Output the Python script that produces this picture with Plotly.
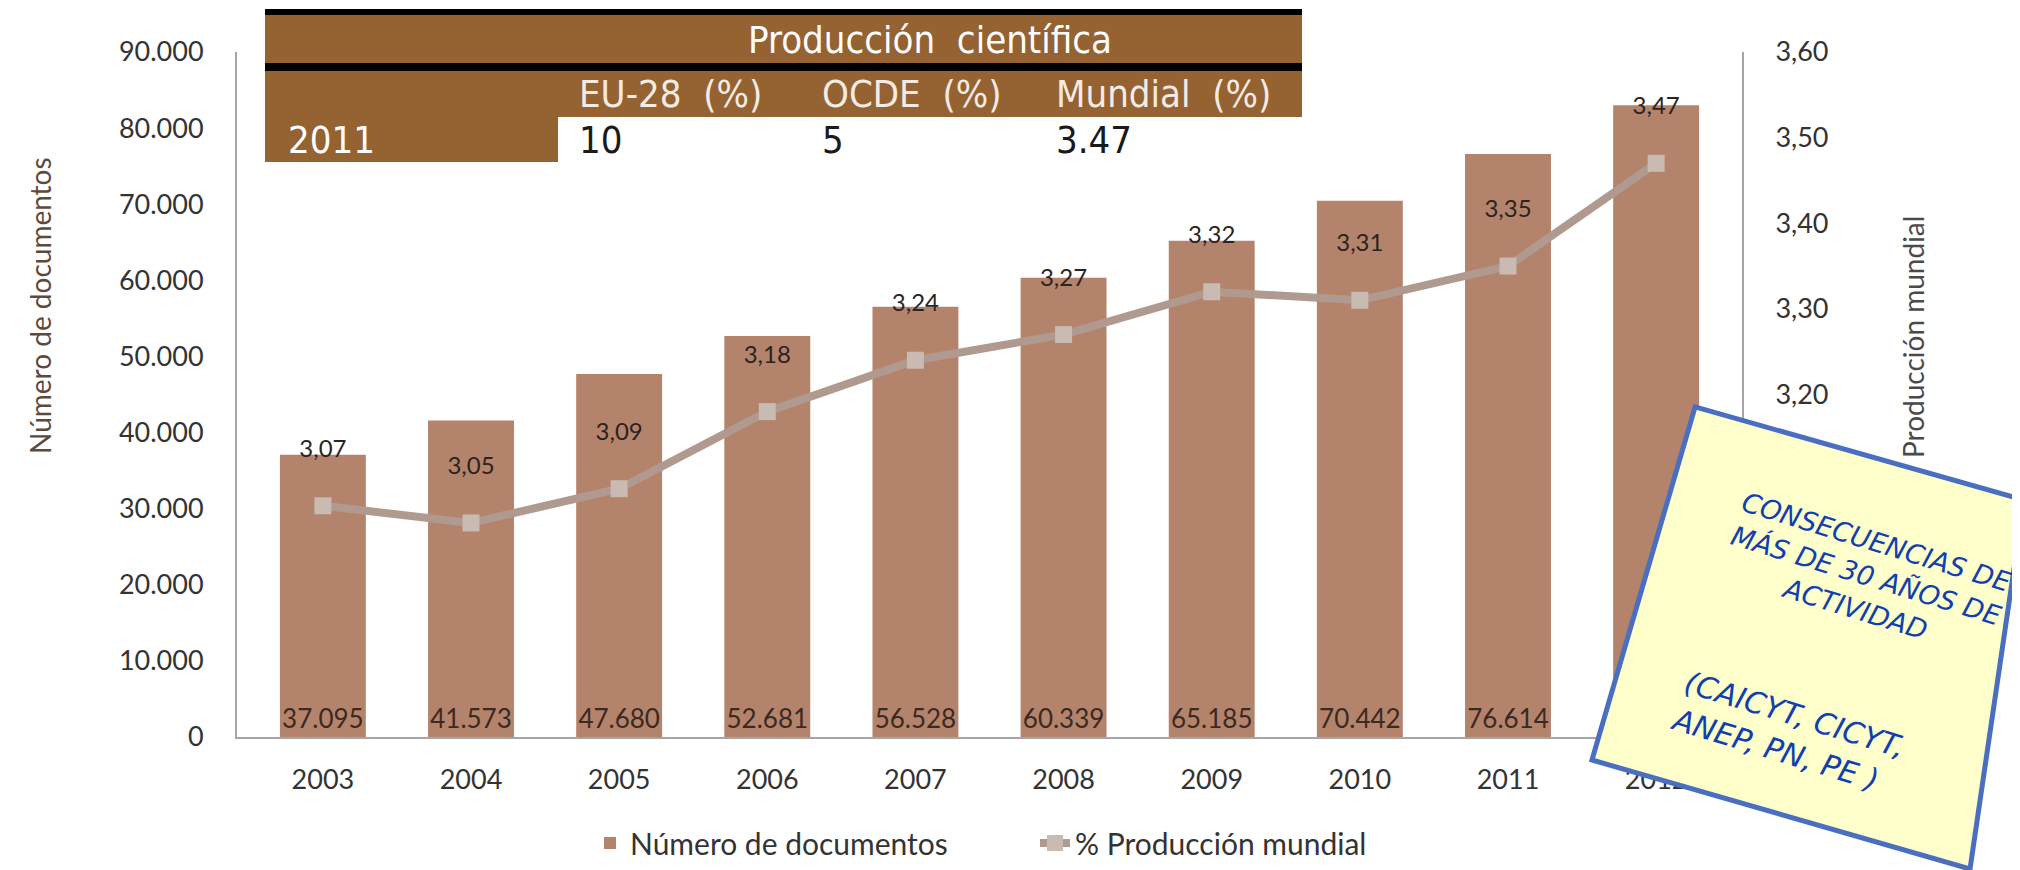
import plotly.graph_objects as go

# data
years = ["2003", "2004", "2005", "2006", "2007", "2008", "2009", "2010", "2011", "2012"]
documentos = [37095, 41573, 47680, 52681, 56528, 60339, 65185, 70442, 76614, 83000]
pct_mundial = [3.07, 3.05, 3.09, 3.18, 3.24, 3.27, 3.32, 3.31, 3.35, 3.47]

tabla_titulo = "Producción\u00a0\u00a0científica"
tabla_cols = ["EU-28\u00a0\u00a0(%)", "OCDE\u00a0\u00a0(%)", "Mundial\u00a0\u00a0(%)"]
tabla_anio = "2011"
tabla_vals = ["10", "5", "3.47"]

nota_1 = "CONSECUENCIAS DE<br>MÁS DE 30 AÑOS DE<br>ACTIVIDAD"
nota_2 = "(CAICYT, CICYT,<br>ANEP, PN, PE )"

# the page keeps the browser's 8px body margin, so work in screen pixels
OFF = 8
W, H = 2020 - OFF, 870 - OFF
L, R, T, B = 237, 1742, 52, 737   # plot area, screen pixels

def px(x):
    return (x - L) / (R - L)

def py(y):
    return (B - y) / (B - T)

BAR = "#b4836b"
BROWN = "#956232"
LINE = "#b09a8f"
FONT = "Lato, 'Open Sans', sans-serif"
NARROW = "'Liberation Sans Narrow', 'DejaVu Sans Condensed', Roboto, sans-serif"

fig = go.Figure()

fig.add_trace(go.Bar(
    x=years, y=documentos, name="Número de documentos",
    marker=dict(color=BAR, line=dict(width=0)),
    texttemplate="%{y:,.0f}", textposition="inside", insidetextanchor="start",
    textangle=0, constraintext="none",
    textfont=dict(size=26, color="#3b2a22", family=FONT),
    yaxis="y"))

fig.add_trace(go.Scatter(
    x=years, y=pct_mundial, name="% Producción mundial",
    mode="lines+markers+text", yaxis="y2",
    line=dict(color=LINE, width=8),
    marker=dict(symbol="square", size=17, color="#c9bab2", line=dict(width=0)),
    texttemplate="%{y:.2f}<br> ", textposition="top center",
    textfont=dict(size=24, color="#2b2320", family=FONT)))

shapes = []
ann = []

# table at the top
def rect(x0, y0, x1, y1, color):
    shapes.append(dict(type="rect", xref="paper", yref="paper",
                       x0=px(x0), x1=px(x1), y0=py(y1), y1=py(y0),
                       fillcolor=color, line=dict(width=0), layer="above"))

rect(265, 9, 1302, 15, "black")
rect(265, 15, 1302, 63, BROWN)
rect(265, 63, 1302, 71, "black")
rect(265, 71, 1302, 117, BROWN)
rect(265, 117, 558, 162, BROWN)

def text(x, y, s, size, color, family=FONT, xanchor="left", **kw):
    ann.append(dict(x=px(x), y=py(y), xref="paper", yref="paper", text=s,
                    showarrow=False, xanchor=xanchor, yanchor="middle",
                    font=dict(size=size, color=color, family=family), **kw))

text(930, 40, tabla_titulo, 38, "white", NARROW, xanchor="center")
for cx, col, val in zip([577, 820, 1054], tabla_cols, tabla_vals):
    text(cx, 94, col, 38, "#f4ece4", NARROW)
    text(cx, 140, val, 38, "#1a1a1a", NARROW)
text(286, 140, tabla_anio, 38, "white", NARROW)

# axis titles
text(40, 306, "Número de documentos", 28, "#5e4a3c", xanchor="center", textangle=-90)
text(1913, 337, "Producción mundial", 28, "#4a4a4a", xanchor="center", textangle=-90)

# sticky note
corners = [(1695, 407), (2024, 500), (1970, 869), (1592, 760)]
path = "M " + " L ".join(f"{px(a):.4f},{py(b):.4f}" for a, b in corners) + " Z"
shapes.append(dict(type="path", path=path, xref="paper", yref="paper",
                   fillcolor="#ffffcc", line=dict(color="#4a6fc1", width=5),
                   layer="above"))
text(1866, 575, nota_1, 27, "#1040b0", "'DejaVu Sans', sans-serif",
     xanchor="center", textangle=17, align="center")
text(1788, 733, nota_2, 30, "#1040b0", "'DejaVu Sans', sans-serif",
     xanchor="center", textangle=17, align="left")
for a in ann[-2:]:
    a["font"]["style"] = "italic"

fig.update_layout(
    width=W, height=H,
    margin=dict(l=L - OFF, r=W - (R - OFF), t=T - OFF, b=H - (B - OFF), autoexpand=False),
    paper_bgcolor="white", plot_bgcolor="white",
    separators=",.",
    font=dict(family=FONT, color="#404040"),
    bargap=0.42,
    showlegend=True,
    legend=dict(orientation="h", x=px(590), y=py(843), xanchor="left", yanchor="middle",
                font=dict(size=30, color="#333333"), entrywidth=400),
    xaxis=dict(type="category", showline=True, linecolor="#a6a6a6", linewidth=2,
               showgrid=False, ticks="", tickfont=dict(size=27, color="#333333"),
               ticklabelstandoff=18, automargin=False),
    yaxis=dict(range=[0, 90000], dtick=10000, tickformat=",.0f", showline=True,
               linecolor="#a6a6a6", linewidth=2, showgrid=False, zeroline=False,
               ticks="", tickfont=dict(size=27, color="#333333"), ticklabelstandoff=26,
               automargin=False),
    yaxis2=dict(range=[2.8, 3.6], dtick=0.1, tickformat=".2f", overlaying="y", side="right",
                showline=True, linecolor="#a6a6a6", linewidth=2, showgrid=False,
                zeroline=False, ticks="", tickfont=dict(size=27, color="#333333"),
                ticklabelstandoff=26, automargin=False),
    shapes=shapes, annotations=ann,
)

fig.write_html("out.html")
